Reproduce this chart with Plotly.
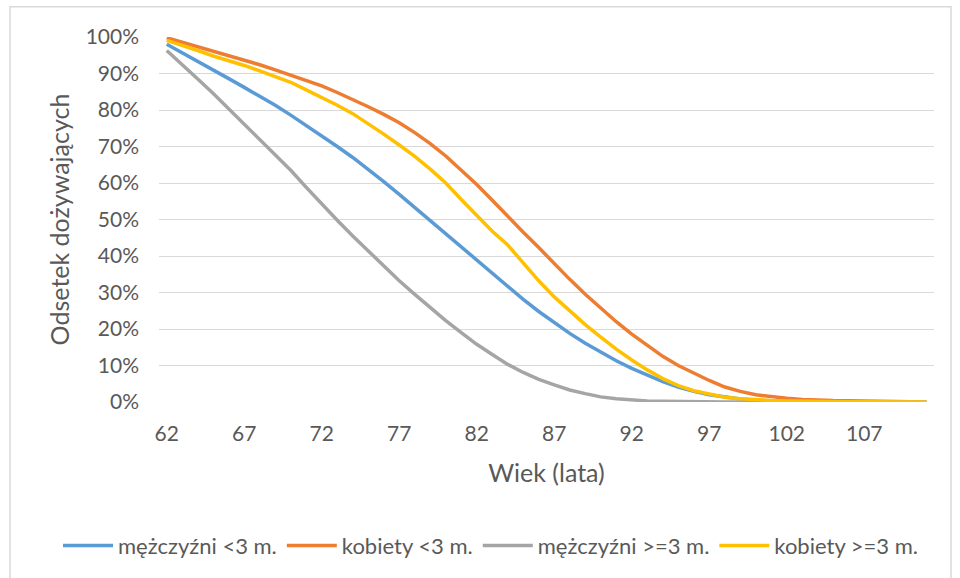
import plotly.graph_objects as go

ages = list(range(62, 112))

men_lt3 = [98.0, 95.7, 93.3, 91.0, 88.6, 86.2, 83.8, 81.3, 78.6, 75.8,
           72.8, 70.0, 67.0, 63.8, 60.4, 56.9, 53.3, 49.6, 45.9, 42.2,
           38.6, 35.0, 31.5, 28.1, 24.8, 21.7, 18.8, 16.1, 13.6, 11.3,
           9.2, 7.3, 5.6, 4.1, 2.9, 2.0, 1.3, 0.8, 0.5, 0.3,
           0.2, 0.1, 0.1, 0.05, 0.05, 0.03, 0.02, 0.01, 0.0, 0.0]

women_lt3 = [99.8, 98.6, 97.4, 96.2, 95.0, 93.8, 92.4, 91.0, 89.6, 88.2,
             86.6, 84.8, 82.9, 80.9, 78.8, 76.5, 73.8, 70.8, 67.4, 63.6,
             59.6, 55.3, 50.8, 46.5, 42.3, 37.8, 33.6, 29.5, 25.6, 22.0,
             18.6, 15.4, 12.5, 10.0, 7.9, 5.9, 4.1, 2.9, 2.0, 1.4,
             1.0, 0.7, 0.5, 0.4, 0.35, 0.3, 0.2, 0.1, 0.05, 0.0]

men_ge3 = [96.3, 92.5, 88.5, 84.5, 80.3, 76.0, 71.8, 67.5, 63.5, 58.8,
           54.2, 49.8, 45.5, 41.3, 37.2, 33.2, 29.5, 25.8, 22.3, 19.0,
           15.8, 13.0, 10.3, 8.1, 6.2, 4.7, 3.3, 2.3, 1.4, 0.9,
           0.5, 0.3, 0.2, 0.1, 0.05, 0.03, 0.02, 0.01, 0.0, 0.0,
           0.0, 0.0, 0.0, 0.0, 0.0, 0.0, 0.0, 0.0, 0.0, 0.0]

women_ge3 = [99.1, 97.8, 96.3, 94.8, 93.6, 92.2, 90.7, 89.2, 87.6, 85.5,
             83.5, 81.3, 79.0, 76.3, 73.4, 70.4, 67.3, 63.8, 60.0, 55.5,
             51.0, 46.8, 43.0, 38.0, 33.2, 28.8, 25.0, 21.2, 17.8, 14.5,
             11.5, 8.8, 6.4, 4.5, 3.1, 2.1, 1.3, 0.9, 0.6, 0.4,
             0.3, 0.2, 0.2, 0.15, 0.1, 0.1, 0.05, 0.05, 0.02, 0.0]

series_names = ["mężczyźni <3 m.", "kobiety <3 m.", "mężczyźni >=3 m.", "kobiety >=3 m."]
series_values = [men_lt3, women_lt3, men_ge3, women_ge3]
series_colors = ["#5B9BD5", "#ED7D31", "#A5A5A5", "#FFC000"]

x_tick_vals = list(range(62, 108, 5))
x_tick_text = [str(v) for v in x_tick_vals]

FONT = "Lato"
TXT = "#595959"

fig = go.Figure()
for name, vals, col in zip(series_names, series_values, series_colors):
    fig.add_trace(go.Scatter(x=ages, y=vals, name=name, mode="lines",
                             line=dict(color=col, width=3.5)))

fig.update_layout(
    width=960, height=578,
    margin=dict(l=159, r=26, t=37, b=175),
    paper_bgcolor="white", plot_bgcolor="white",
    font=dict(family=FONT, size=21, color=TXT),
    showlegend=True,
    legend=dict(orientation="h", x=(58 - 159) / 775, xanchor="left", y=-0.39, yanchor="middle",
                font=dict(family=FONT, size=22, color=TXT), itemwidth=50,
                bgcolor="rgba(0,0,0,0)", tracegroupgap=0),
    xaxis=dict(range=[61.5, 111.5], tickmode="array", tickvals=x_tick_vals, ticktext=x_tick_text,
               showgrid=False, zeroline=False, showline=False, ticks="",
               ticklabelstandoff=17, automargin=False,
               title=dict(text="Wiek (lata)", font=dict(family=FONT, size=25, color=TXT), standoff=20)),
    yaxis=dict(range=[0, 100], dtick=10, ticksuffix="%", showgrid=True, gridcolor="#D9D9D9",
               gridwidth=1, zeroline=False, showline=False, ticks="", ticklabelstandoff=19,
               automargin=False,
               title=dict(text="Odsetek dożywających", font=dict(family=FONT, size=25, color=TXT), standoff=8)),
    shapes=[dict(type="rect", xref="paper", yref="paper",
                 x0=(10 - 159) / 775, x1=(951 - 159) / 775,
                 y0=(403.3 - 590) / 366, y1=(403.3 - 7) / 366,
                 line=dict(color="#D9D9D9", width=1.5), fillcolor="rgba(0,0,0,0)", layer="below")],
)

fig.write_html("out.html")
